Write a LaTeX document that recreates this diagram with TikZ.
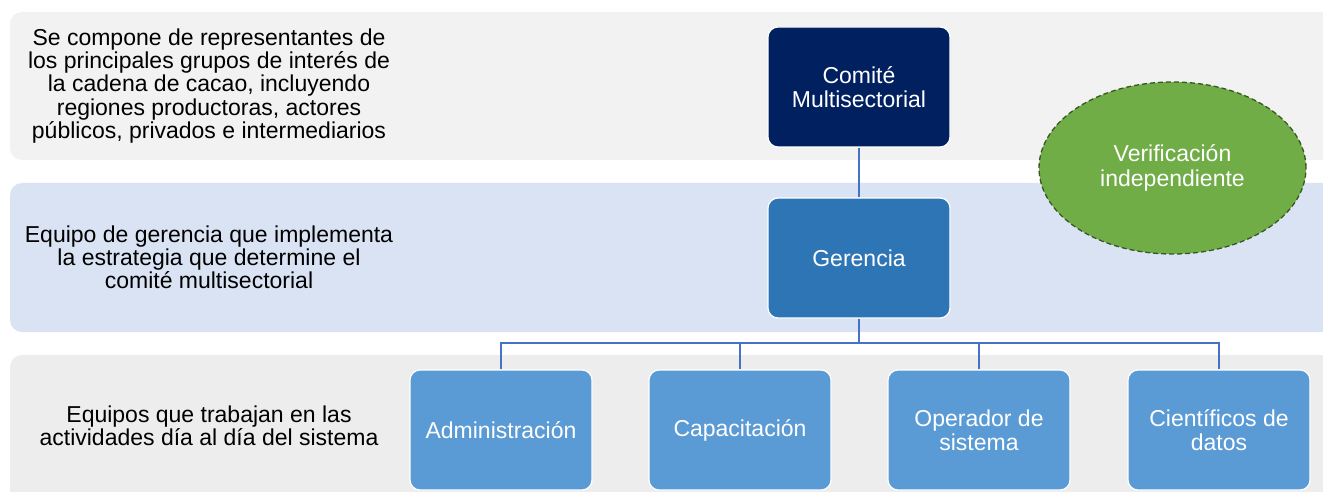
\documentclass[tikz,border=0pt]{standalone}
\usepackage{fontspec}
\setmainfont{Liberation Sans}
\usetikzlibrary{shapes.geometric}
\definecolor{bandA}{HTML}{F2F2F2}
\definecolor{bandB}{HTML}{DAE3F3}
\definecolor{bandC}{HTML}{EDEDED}
\definecolor{navy}{HTML}{002060}
\definecolor{midblue}{HTML}{2E75B6}
\definecolor{lightblue}{HTML}{5B9BD5}
\definecolor{connblue}{HTML}{4472C4}
\definecolor{vgreen}{HTML}{70AD47}
\definecolor{dgreen}{HTML}{385723}
\tikzset{
  orgbox/.style={rectangle, rounded corners=10pt, draw=white, line width=1.2pt,
    text=white, align=center, inner sep=0pt, font=\fontsize{23}{23.5}\selectfont},
  topbox/.style={orgbox, fill=navy, minimum width=182pt, minimum height=120pt},
  midbox/.style={orgbox, fill=midblue, minimum width=182pt, minimum height=120pt},
  lowbox/.style={orgbox, fill=lightblue, minimum width=182pt, minimum height=120pt,
    font=\fontsize{23}{24}\selectfont},
  bandtext/.style={align=center, inner sep=0pt, text=black, font=\fontsize{23}{23.2}\selectfont},
  conn/.style={draw=connblue, line width=1.8pt},
  verif/.style={ellipse, fill=vgreen, draw=dgreen, dash pattern=on 5pt off 3pt, line width=1.3pt,
    minimum width=267pt, minimum height=172pt, inner sep=0pt, text=white, align=center,
    font=\fontsize{23}{25}\selectfont}
}
\begin{document}
\begin{tikzpicture}[x=1pt,y=-1pt]
\clip (0,0) rectangle (1323,492);
\fill[white] (0,0) rectangle (1323,492);
% bands
\fill[bandA, rounded corners=12pt] (10,12) rectangle (1345,160);
\fill[bandB, rounded corners=12pt] (10,183) rectangle (1345,332);
\fill[bandC, rounded corners=12pt] (10,355) rectangle (1345,520);
% band texts
\node[bandtext] (t1) at (209,86) {Se compone de representantes de\\los principales grupos de interés de\\la cadena de cacao, incluyendo\\regiones productoras, actores\\públicos, privados e intermediarios};
\node[bandtext] (t2) at (209,257.5) {Equipo de gerencia que implementa\\la estrategia que determine el\\comité multisectorial};
\node[bandtext] (t3) at (209,426) {Equipos que trabajan en las\\actividades día al día del sistema};
% nodes
\node[topbox] (com) at (859,87) {Comité\\Multisectorial};
\node[midbox] (ger) at (859,258) {Gerencia};
\node[lowbox] (adm) at (501,430) {Administración};
\node[lowbox] (cap) at (740,430) {Capacitación};
\node[lowbox] (ope) at (979,430) {Operador de\\sistema};
\node[lowbox] (cie) at (1219,430) {Científicos de\\datos};
\node[verif] (ver) at (1172.5,168) {Verificación\\independiente};
% connectors
\coordinate (bus) at (859,343);
\draw[conn] (com.south) -- (ger.north);
\draw[conn] (ger.south) -- (bus);
\draw[conn] (adm.north) |- (bus) -| (cie.north);
\draw[conn] (cap.north) -- (cap.north |- bus);
\draw[conn] (ope.north) -- (ope.north |- bus);
\end{tikzpicture}
\end{document}
